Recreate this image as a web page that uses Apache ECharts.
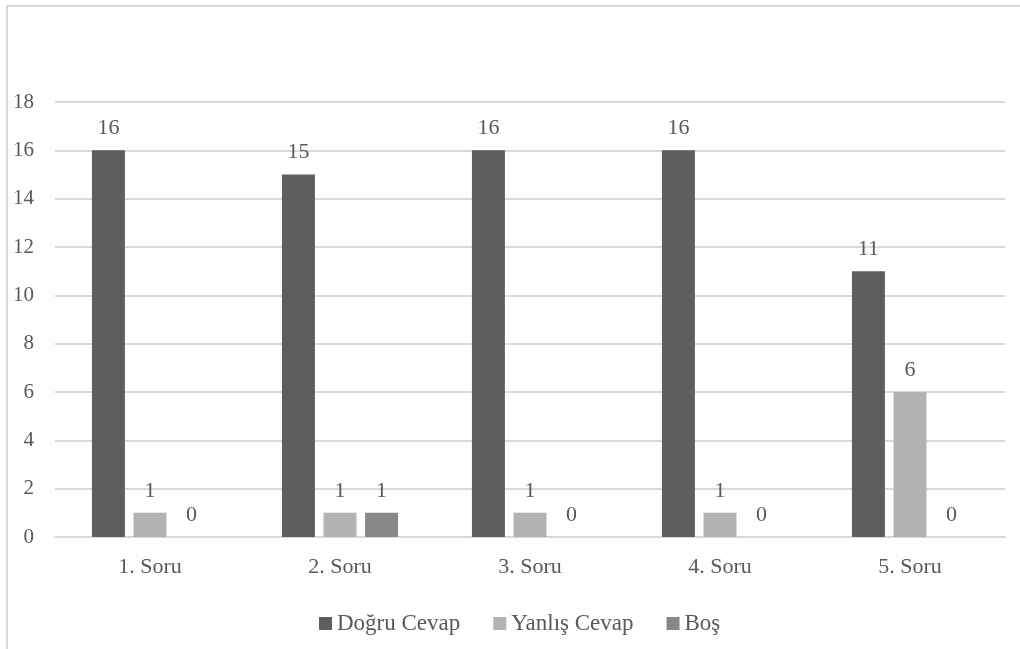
<!DOCTYPE html>
<html>
<head>
<meta charset="utf-8">
<script src="https://cdn.jsdelivr.net/npm/echarts@6/dist/echarts.min.js"></script>
<style>
  html, body { margin: 0; padding: 0; background: #ffffff; }
  #chart { width: 1020px; height: 649px; }
</style>
</head>
<body>
<div id="chart"></div>
<script>
// Question labels and answer counts per question
const categories = ['1. Soru', '2. Soru', '3. Soru', '4. Soru', '5. Soru'];
const dogruCevap = [16, 15, 16, 16, 11];
const yanlisCevap = [1, 1, 1, 1, 6];
const bos = [0, 1, 0, 0, 0];
const yTicks = { min: 0, max: 18, interval: 2 };

const FONT = "'Liberation Serif', 'Times New Roman', serif";
const TEXT = '#595959';

function barSeries(name, data, color) {
  return {
    name: name,
    type: 'bar',
    data: data,
    barWidth: 33,
    barGap: '26%',
    itemStyle: { color: color },
    label: {
      show: true,
      position: 'top',
      distance: 11,
      color: TEXT,
      fontFamily: FONT,
      fontSize: 22
    }
  };
}

const chart = echarts.init(document.getElementById('chart'), null, { renderer: 'canvas' });
chart.setOption({
  backgroundColor: '#ffffff',
  animation: false,
  graphic: [{
    type: 'rect',
    shape: { x: 7, y: 6, width: 1040, height: 700 },
    style: { fill: 'none', stroke: '#d9d9d9', lineWidth: 2 },
    silent: true
  }],
  grid: { left: 55, right: 15, top: 102, bottom: 112 },
  legend: {
    left: 314,
    top: 607,
    itemWidth: 13,
    itemHeight: 13,
    itemGap: 33,
    itemStyle: { borderWidth: 0 },
    icon: 'rect',
    textStyle: { color: TEXT, fontFamily: FONT, fontSize: 23 },
    data: ['Doğru Cevap', 'Yanlış Cevap', 'Boş']
  },
  xAxis: {
    type: 'category',
    data: categories,
    axisLine: { lineStyle: { color: '#d9d9d9', width: 2 } },
    axisTick: { show: false },
    axisLabel: { color: TEXT, fontFamily: FONT, fontSize: 22, margin: 19 }
  },
  yAxis: {
    type: 'value',
    min: yTicks.min,
    max: yTicks.max,
    interval: yTicks.interval,
    axisLine: { show: false },
    axisTick: { show: false },
    splitLine: { lineStyle: { color: '#d9d9d9', width: 2 } },
    axisLabel: { color: TEXT, fontFamily: FONT, fontSize: 21, margin: 21 }
  },
  series: [
    barSeries('Doğru Cevap', dogruCevap, '#5e5e5e'),
    barSeries('Yanlış Cevap', yanlisCevap, '#b3b3b3'),
    barSeries('Boş', bos, '#888888')
  ]
});
</script>
</body>
</html>
